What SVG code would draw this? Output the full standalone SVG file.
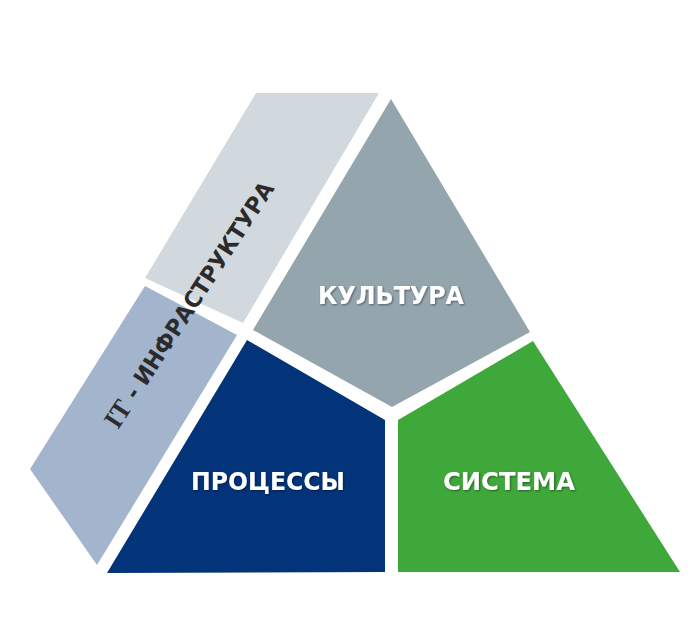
<svg xmlns="http://www.w3.org/2000/svg" width="695" height="626" viewBox="0 0 695 626">
  <style>
    .lbl { font-family: "DejaVu Sans", "Liberation Sans", Arial, sans-serif; font-weight: bold; fill: #ffffff; text-anchor: middle; font-size: 25px; }
    .it { font-family: "DejaVu Sans", "Liberation Sans", Arial, sans-serif; font-weight: bold; fill: #2b2b2b; font-size: 23px; }
  </style>
  <defs>
    <filter id="sh" x="-10%" y="-30%" width="120%" height="160%">
      <feGaussianBlur in="SourceAlpha" stdDeviation="1.2"/>
      <feOffset dx="0.5" dy="1" result="b"/>
      <feComponentTransfer><feFuncA type="linear" slope="0.45"/></feComponentTransfer>
      <feMerge><feMergeNode/><feMergeNode in="SourceGraphic"/></feMerge>
    </filter>
  </defs>
  <rect width="695" height="626" fill="#ffffff"/>

  <g id="it-upper">
    <polygon points="256,93 379,93 243,323 145,278" fill="#d1d9de"/>
  </g>
  <g id="it-lower">
    <polygon points="145,286 237,335 97,565 30,469" fill="#a3b4cd"/>
  </g>
  <g id="kultura">
    <polygon points="391,99 530,332 392,407 253,330" fill="#94a5ae"/>
    <text class="lbl" x="391" y="304" textLength="146" lengthAdjust="spacingAndGlyphs" filter="url(#sh)">КУЛЬТУРА</text>
  </g>
  <g id="processy">
    <polygon points="247,340 385,420 385,572 107,573" fill="#03347a"/>
    <text class="lbl" x="268" y="490" textLength="154" lengthAdjust="spacingAndGlyphs" filter="url(#sh)">ПРОЦЕССЫ</text>
  </g>
  <g id="sistema">
    <polygon points="533,341 680,572 398,572 398,420" fill="#3fa83b"/>
    <text class="lbl" x="509" y="490" textLength="132" lengthAdjust="spacingAndGlyphs" filter="url(#sh)">СИСТЕМА</text>
  </g>
  <g id="it-label">
    <text class="it" transform="translate(118,430) rotate(-57)" x="0" y="0" textLength="288" lengthAdjust="spacingAndGlyphs"><tspan font-family="'Liberation Serif', 'DejaVu Serif', serif" font-size="27">IT</tspan> - ИНФРАСТРУКТУРА</text>
  </g>
  <g id="connectors"/>
</svg>
